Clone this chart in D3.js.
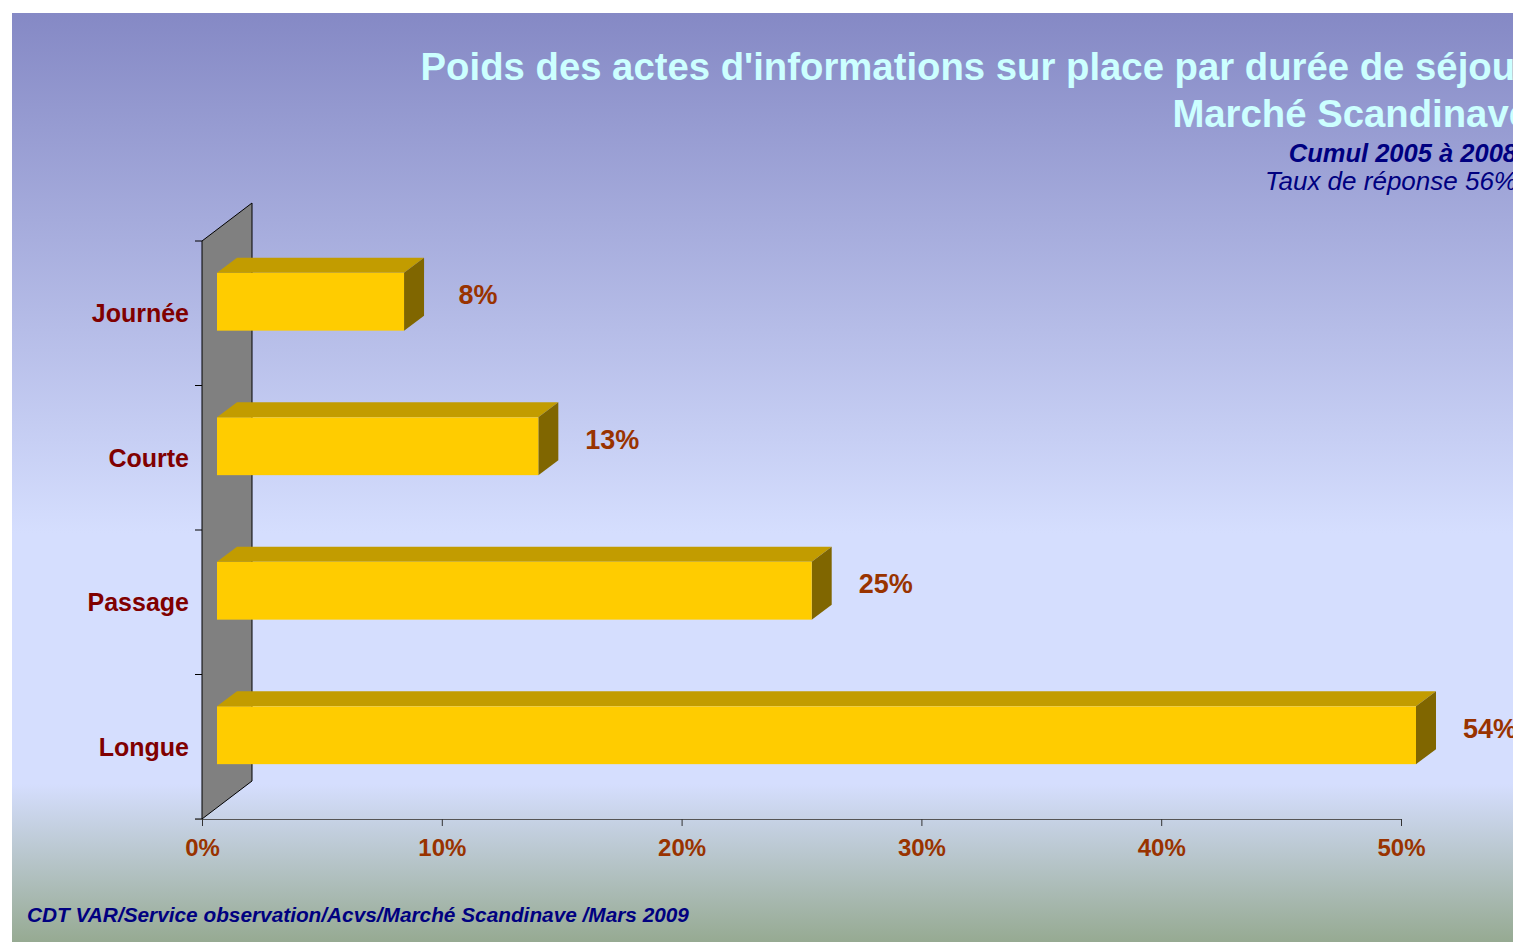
<!DOCTYPE html>
<html lang="fr">
<head>
<meta charset="UTF-8">
<title>Poids des actes d'informations sur place par durée de séjour</title>
<script src="https://d3js.org/d3.v7.min.js"></script>
<style>
  body { margin: 0; overflow: hidden; background: #fff; }
  svg { display: block; font-family: "Liberation Sans", Arial, sans-serif; }
</style>
</head>
<body>
<svg width="1513" height="942"></svg>
<script>
// chart data
const categories = ["Journée", "Courte", "Passage", "Longue"];
const values = [0.078, 0.134, 0.248, 0.538];
const xTicks = [0, 0.1, 0.2, 0.3, 0.4, 0.5];
const titleLines = ["Poids des actes d'informations sur place par durée de séjour", "Marché Scandinave"];
const subtitle = "Cumul 2005 à 2008";
const rateText = "Taux de réponse 56%";
const footer = "CDT VAR/Service observation/Acvs/Marché Scandinave /Mars 2009";

const svg = d3.select("svg");
const W = 1513, H = 942;

// background gradient
const defs = svg.append("defs");
const grad = defs.append("linearGradient").attr("id", "bg")
    .attr("x1", 0).attr("y1", 0).attr("x2", 0).attr("y2", 1);
grad.append("stop").attr("offset", 0).attr("stop-color", "#8589c5");
grad.append("stop").attr("offset", 0.56).attr("stop-color", "#d5defe");
grad.append("stop").attr("offset", 0.83).attr("stop-color", "#d5defe");
grad.append("stop").attr("offset", 1).attr("stop-color", "#96aa92");
svg.append("rect").attr("x", 12).attr("y", 13).attr("width", W - 12).attr("height", H - 13)
    .attr("fill", "url(#bg)");

// scales (front plane of the 3d box)
const x = d3.scaleLinear().domain([0, 0.5]).range([202, 1401]);
const y = d3.scaleBand().domain(categories).range([241, 819]);

// 3d depth
const depthX = 50, depthY = -38;
const barOffX = 15, barOffY = -11.5;   // front face of bars
const barDX = 20, barDY = -15;         // bar thickness
const barH = y.bandwidth() * 0.4;

// back wall
const x0 = x(0), yTop = y.range()[0], yBot = y.range()[1];
svg.append("path")
    .attr("d", `M${x0},${yTop}L${x0 + depthX},${yTop + depthY}L${x0 + depthX},${yBot + depthY}L${x0},${yBot}Z`)
    .attr("fill", "#808080")
    .attr("stroke", "#000")
    .attr("stroke-width", 1);

// category axis ticks
const yTicks = categories.map(c => y(c)).concat([yBot]);
svg.selectAll(".ytick").data(yTicks).join("line")
    .attr("x1", x0 - 7).attr("x2", x0)
    .attr("y1", d => d).attr("y2", d => d)
    .attr("stroke", "#000");

// x axis
const xAxis = svg.append("g").attr("transform", `translate(0,${yBot})`)
    .call(d3.axisBottom(x).tickValues(xTicks).tickSize(7).tickPadding(13).tickFormat(d3.format(".0%")));
xAxis.select(".domain").attr("stroke", "#555").attr("d", `M${x0 - 7},0.5H${x(0.5)}`);
xAxis.selectAll(".tick line").attr("stroke", "#333");
xAxis.selectAll(".tick text")
    .attr("fill", "#993300")
    .attr("font-size", 24)
    .attr("font-weight", "bold")
    .attr("font-family", "Liberation Sans, Arial, sans-serif");

// bars
const bars = svg.selectAll(".bar").data(categories).join("g").attr("class", "bar");
bars.each(function (c, i) {
    const g = d3.select(this);
    const v = Math.min(values[i], x.domain()[1]);
    const xs = x(0) + barOffX, xe = x(v) + barOffX;
    const yt = y(c) + (y.bandwidth() - barH) / 2 + barOffY, yb = yt + barH;
    g.append("path")
        .attr("d", `M${xs},${yt}L${xs + barDX},${yt + barDY}L${xe + barDX},${yt + barDY}L${xe},${yt}Z`)
        .attr("fill", "#c29c00");
    g.append("path")
        .attr("d", `M${xe},${yt}L${xe + barDX},${yt + barDY}L${xe + barDX},${yb + barDY}L${xe},${yb}Z`)
        .attr("fill", "#806600");
    g.append("rect")
        .attr("x", xs).attr("y", yt).attr("width", xe - xs).attr("height", barH)
        .attr("fill", "#ffcc00");
    g.append("text")
        .attr("x", xe + 74).attr("y", yt + barH / 2 - 7)
        .attr("dy", "0.35em")
        .attr("text-anchor", "middle")
        .attr("fill", "#993300")
        .attr("font-size", 27)
        .attr("font-weight", "bold")
        .text(d3.format(".0%")(values[i]));
});

// category labels
svg.selectAll(".cat").data(categories).join("text")
    .attr("x", 189)
    .attr("y", d => y(d) + y.bandwidth() / 2)
    .attr("dy", "0.35em")
    .attr("text-anchor", "end")
    .attr("fill", "#800000")
    .attr("font-size", 25)
    .attr("font-weight", "bold")
    .text(d => d);

// titles
svg.selectAll(".title").data(titleLines).join("text")
    .attr("x", 1530)
    .attr("y", (d, i) => 80 + i * 47)
    .attr("text-anchor", "end")
    .attr("fill", "#ccffff")
    .attr("font-size", 38.3)
    .attr("font-weight", "bold")
    .text(d => d);

svg.append("text")
    .attr("x", 1517).attr("y", 162)
    .attr("text-anchor", "end")
    .attr("fill", "#000080")
    .attr("font-size", 25.5)
    .attr("font-weight", "bold")
    .attr("font-style", "italic")
    .text(subtitle);

svg.append("text")
    .attr("x", 1517).attr("y", 190)
    .attr("text-anchor", "end")
    .attr("fill", "#000080")
    .attr("font-size", 26)
    .attr("font-style", "italic")
    .text(rateText);

svg.append("text")
    .attr("x", 27).attr("y", 922)
    .attr("fill", "#000080")
    .attr("font-size", 20.8)
    .attr("font-weight", "bold")
    .attr("font-style", "italic")
    .text(footer);
</script>
</body>
</html>
